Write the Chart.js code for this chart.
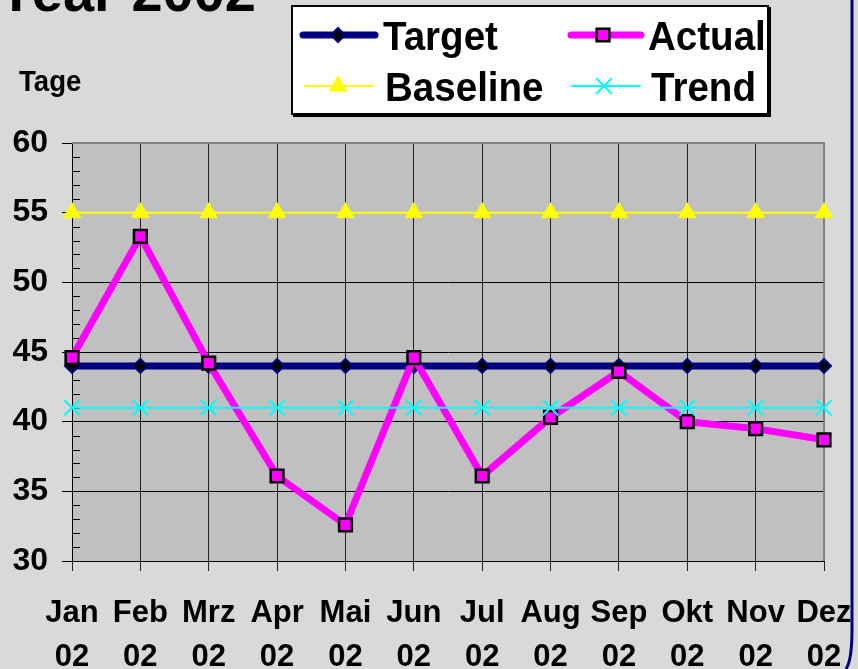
<!DOCTYPE html>
<html>
<head>
<meta charset="utf-8">
<title>Year 2002</title>
<script src="https://cdn.jsdelivr.net/npm/chart.js@4.4.1/dist/chart.umd.min.js"></script>
<style>
    html, body { margin: 0; padding: 0; background: #d9d9d9; overflow: hidden; }
    #wrap { width: 858px; height: 669px; }
</style>
</head>
<body>
<div id="wrap"><canvas id="daysChart" width="858" height="669"></canvas></div>
<script>
// chart data
const titleText = 'Year 2002';
const yAxisTitle = 'Tage';
const months = ['Jan', 'Feb', 'Mrz', 'Apr', 'Mai', 'Jun', 'Jul', 'Aug', 'Sep', 'Okt', 'Nov', 'Dez'];
const yearSuffix = '02';
const targetDays = [44, 44, 44, 44, 44, 44, 44, 44, 44, 44, 44, 44];
const actualDays = [44.6, 53.3, 44.2, 36.1, 32.6, 44.6, 36.1, 40.3, 43.6, 40.0, 39.5, 38.7];
const baselineDays = [55, 55, 55, 55, 55, 55, 55, 55, 55, 55, 55, 55];
const trendDays = [41, 41, 41, 41, 41, 41, 41, 41, 41, 41, 41, 41];
const yMin = 30;
const yMax = 60;
const yStep = 5;

const FONT = '"Liberation Sans", Arial, sans-serif';
const PAGE_BG = '#d9d9d9';
const PLOT_BG = '#c0c0c0';
const NAVY = '#000080';

const labels = months.map(m => [m, yearSuffix]);

// text drawn a little narrower, like the original
function narrowText(ctx, text, x, y, squeeze) {
    ctx.save();
    ctx.translate(x, y);
    ctx.scale(squeeze, 1);
    ctx.fillText(text, 0, 0);
    ctx.restore();
}

// background, frame, minor ticks, title, legend
const decorPlugin = {
    id: 'decor',
    beforeDraw(chart) {
        const { ctx, chartArea: a } = chart;
        ctx.save();
        ctx.fillStyle = PAGE_BG;
        ctx.fillRect(0, 0, chart.width, chart.height);
        ctx.fillStyle = PLOT_BG;
        ctx.fillRect(a.left, a.top, a.right - a.left, a.bottom - a.top);
        ctx.restore();
    },
    beforeDatasetsDraw(chart) {
        const { ctx, chartArea: a } = chart;
        const y = chart.scales.y;
        ctx.save();
        // minor ticks inside the plot
        ctx.strokeStyle = '#000';
        ctx.lineWidth = 1;
        for (let v = yMin + 1; v < yMax; v++) {
            if (v % yStep === 0) continue;
            const py = Math.round(y.getPixelForValue(v)) + 0.5;
            ctx.beginPath();
            ctx.moveTo(a.left, py);
            ctx.lineTo(a.left + 8, py);
            ctx.stroke();
        }
        // gray top and right edges
        ctx.strokeStyle = '#808080';
        ctx.lineWidth = 2;
        ctx.beginPath();
        ctx.moveTo(a.left, a.top);
        ctx.lineTo(a.right, a.top);
        ctx.lineTo(a.right, a.bottom);
        ctx.stroke();
        ctx.restore();
    },
    afterDraw(chart) {
        const { ctx } = chart;
        ctx.save();

        // title, cut by the top edge
        ctx.fillStyle = '#000';
        ctx.font = 'bold 56px ' + FONT;
        ctx.textAlign = 'right';
        ctx.textBaseline = 'alphabetic';
        ctx.fillText(titleText, 256, 11);

        // y axis caption
        ctx.font = 'bold 30px ' + FONT;
        ctx.textAlign = 'left';
        narrowText(ctx, yAxisTitle, 19, 91, 0.92);

        // legend box
        ctx.fillStyle = '#000';
        ctx.fillRect(293, 7, 478, 110);
        ctx.fillStyle = '#fff';
        ctx.fillRect(291, 5, 478, 110);
        ctx.strokeStyle = '#000';
        ctx.lineWidth = 2;
        ctx.strokeRect(292, 6, 476, 108);

        const slots = [
            { lx: 303, rx: 375, mx: 338, y: 35, tx: 383 },
            { lx: 571, rx: 641, mx: 603, y: 35, tx: 648 },
            { lx: 305, rx: 373, mx: 338, y: 86, tx: 385 },
            { lx: 572, rx: 640, mx: 604, y: 86, tx: 651 }
        ];
        chart.data.datasets.forEach((ds, i) => {
            const s = slots[i];
            ctx.strokeStyle = ds.borderColor;
            ctx.lineWidth = ds.borderWidth;
            ctx.lineCap = 'round';
            ctx.beginPath();
            ctx.moveTo(s.lx, s.y);
            ctx.lineTo(s.rx, s.y);
            ctx.stroke();
            ctx.lineCap = 'butt';
            ctx.fillStyle = ds.pointBackgroundColor;
            ctx.strokeStyle = ds.pointBorderColor;
            ctx.lineWidth = ds.pointBorderWidth;
            Chart.helpers.drawPoint(ctx, {
                pointStyle: ds.pointStyle,
                radius: ds.pointRadius,
                rotation: 0,
                borderWidth: ds.pointBorderWidth
            }, s.mx, s.y);
            ctx.fillStyle = '#000';
            ctx.font = 'bold 41px ' + FONT;
            ctx.textAlign = 'left';
            ctx.textBaseline = 'alphabetic';
            narrowText(ctx, ds.label, s.tx, s.y + 15, 0.94);
        });

        // navy frame on the right
        ctx.strokeStyle = NAVY;
        ctx.lineWidth = 3;
        ctx.beginPath();
        ctx.moveTo(852, 0);
        ctx.lineTo(852, 630);
        ctx.quadraticCurveTo(852, 660, 846, 669);
        ctx.stroke();
        ctx.restore();
    }
};

const ctx = document.getElementById('daysChart');

new Chart(ctx, {
    type: 'line',
    data: {
        labels: labels,
        datasets: [
            {
                label: 'Target',
                data: targetDays,
                borderColor: NAVY,
                borderWidth: 7,
                pointStyle: 'rectRot',
                pointRadius: 7,
                pointBackgroundColor: '#000',
                pointBorderColor: NAVY,
                pointBorderWidth: 2,
                order: 2
            },
            {
                label: 'Actual',
                data: actualDays,
                borderColor: '#ff00ff',
                borderWidth: 7,
                pointStyle: 'rect',
                pointRadius: 9,
                pointBackgroundColor: '#ff00ff',
                pointBorderColor: '#000',
                pointBorderWidth: 2.5,
                order: 1
            },
            {
                label: 'Baseline',
                data: baselineDays,
                borderColor: '#ffff00',
                borderWidth: 2,
                pointStyle: 'triangle',
                pointRadius: 10,
                pointBackgroundColor: '#ffff00',
                pointBorderColor: '#ffff00',
                pointBorderWidth: 1,
                order: 3
            },
            {
                label: 'Trend',
                data: trendDays,
                borderColor: '#00ffff',
                borderWidth: 2,
                pointStyle: 'crossRot',
                pointRadius: 11,
                pointBackgroundColor: '#00ffff',
                pointBorderColor: '#00ffff',
                pointBorderWidth: 2,
                order: 0
            }
        ]
    },
    options: {
        responsive: false,
        animation: false,
        devicePixelRatio: 1,
        datasets: {
            line: {
                tension: 0,
                clip: false,
                borderJoinStyle: 'round',
                pointHoverRadius: 0
            }
        },
        layout: {
            padding: { top: 143, right: 34, left: 0, bottom: 0 }
        },
        plugins: {
            legend: { display: false },
            tooltip: { enabled: false },
            title: { display: false }
        },
        scales: {
            x: {
                offset: false,
                grid: {
                    color: '#222',
                    lineWidth: 1,
                    tickLength: 10,
                    drawTicks: true
                },
                border: { color: '#000', width: 1 },
                ticks: {
                    color: '#000',
                    autoSkip: false,
                    maxRotation: 0,
                    padding: 20,
                    font: { family: FONT, size: 31, weight: 'bold', lineHeight: 1.42 }
                },
                afterFit: scale => {
                    scale.height = 108;
                    scale.paddingLeft = 0;
                    scale.paddingRight = 0;
                }
            },
            y: {
                min: yMin,
                max: yMax,
                grid: {
                    color: '#000',
                    lineWidth: 1,
                    tickLength: 10,
                    drawTicks: true
                },
                border: { color: '#000', width: 1 },
                ticks: {
                    stepSize: yStep,
                    color: '#000',
                    padding: 14,
                    font: { family: FONT, size: 32, weight: 'bold' }
                },
                afterFit: scale => {
                    scale.width = 72;
                    scale.paddingTop = 0;
                    scale.paddingBottom = 0;
                }
            }
        }
    },
    plugins: [decorPlugin]
});
</script>
</body>
</html>
